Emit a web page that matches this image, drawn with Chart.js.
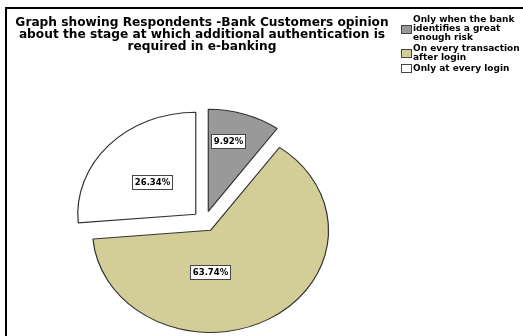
<!DOCTYPE html>
<html>
<head>
<meta charset="utf-8">
<script src="https://cdn.jsdelivr.net/npm/chart.js@4/dist/chart.umd.min.js"></script>
<style>
  html, body { margin: 0; padding: 0; background: #ffffff; }
  canvas { display: block; }
</style>
</head>
<body>
<canvas id="c" width="523" height="336"></canvas>
<script>
// Survey answers: stage at which extra authentication is wanted
const categories = [
  ['Only when the bank', 'identifies a great', 'enough risk'],
  ['On every transaction', 'after login'],
  ['Only at every login']
];
const percentages = [9.92, 63.74, 26.34];
const sliceColors = ['#999999', '#d3ce97', '#ffffff'];
const titleLines = [
  'Graph showing Respondents -Bank Customers opinion',
  'about the stage at which additional authentication is',
  'required in e-banking'
];

const FONT = '"DejaVu Sans", Verdana, sans-serif';
const SQUASH = 0.865;   // vertical flattening of the pie
const EXPLODE = 12;     // distance each slice is pulled out
// where each value box sits inside its slice (fraction along the sweep, fraction of radius)
const labelSpots = [
  { along: 0.38, radial: 0.705 },
  { along: 0.63, radial: 0.41 },
  { along: 0.48, radial: 0.49 }
];

function toScreen(cx, cy, x, y) {
  return { x: x, y: cy + (y - cy) * SQUASH };
}

const ovalPie = {
  id: 'ovalPie',
  beforeDraw(chart) {
    const ctx = chart.ctx;
    ctx.save();
    ctx.fillStyle = '#ffffff';
    ctx.fillRect(0, 0, chart.width, chart.height);
    // outer frame
    ctx.strokeStyle = '#000000';
    ctx.lineWidth = 2;
    ctx.strokeRect(6, 8, chart.width + 20, chart.height + 20);
    // title
    ctx.fillStyle = '#000000';
    ctx.font = 'bold 12.2px ' + FONT;
    ctx.textAlign = 'center';
    ctx.textBaseline = 'alphabetic';
    titleLines.forEach((t, i) => ctx.fillText(t, 202, 26 + i * 12));
    ctx.restore();
  },
  beforeDatasetDraw(chart, args) {
    const ctx = chart.ctx;
    const arcs = args.meta.data;
    if (!arcs.length) return false;
    const cx = arcs[0].x, cy = arcs[0].y;
    ctx.save();
    ctx.translate(cx, cy);
    ctx.scale(1, SQUASH);
    ctx.translate(-cx, -cy);
    arcs.forEach(arc => {
      const mid = (arc.startAngle + arc.endAngle) / 2;
      ctx.save();
      ctx.translate(Math.cos(mid) * EXPLODE, Math.sin(mid) * EXPLODE);
      arc.draw(ctx);
      ctx.restore();
    });
    ctx.restore();
    return false;
  },
  afterDraw(chart) {
    const ctx = chart.ctx;
    const arcs = chart.getDatasetMeta(0).data;
    const values = chart.data.datasets[0].data;
    ctx.save();
    // value boxes
    ctx.font = 'bold 8.5px ' + FONT;
    ctx.textAlign = 'center';
    ctx.textBaseline = 'middle';
    arcs.forEach((arc, i) => {
      const cx = arc.x, cy = arc.y;
      const mid = (arc.startAngle + arc.endAngle) / 2;
      const spot = labelSpots[i];
      const ang = arc.startAngle + spot.along * (arc.endAngle - arc.startAngle);
      const r = arc.outerRadius * spot.radial;
      const ux = cx + Math.cos(mid) * EXPLODE + Math.cos(ang) * r;
      const uy = cy + Math.sin(mid) * EXPLODE + Math.sin(ang) * r;
      const p = toScreen(cx, cy, ux, uy);
      const text = values[i].toFixed(2) + '%';
      const w = Math.round(ctx.measureText(text).width + 5);
      const h = 14;
      const bx = Math.round(p.x - w / 2) + 0.5, by = Math.round(p.y - h / 2) + 0.5;
      ctx.fillStyle = '#ffffff';
      ctx.fillRect(bx, by, w, h);
      ctx.strokeStyle = '#444444';
      ctx.lineWidth = 1;
      ctx.strokeRect(bx, by, w, h);
      ctx.fillStyle = '#000000';
      ctx.fillText(text, bx + w / 2, by + h / 2 + 0.5);
    });
    // legend
    const ds = chart.data.datasets[0];
    ctx.font = 'bold 9px ' + FONT;
    ctx.textAlign = 'left';
    ctx.textBaseline = 'middle';
    let y = 20;
    chart.data.labels.forEach((lines, i) => {
      const n = lines.length;
      const centre = y + (n - 1) * 9 / 2;
      ctx.fillStyle = ds.backgroundColor[i];
      ctx.fillRect(401.5, Math.round(centre - 4) + 0.5, 10, 8);
      ctx.strokeStyle = '#444444';
      ctx.lineWidth = 1;
      ctx.strokeRect(401.5, Math.round(centre - 4) + 0.5, 10, 8);
      ctx.fillStyle = '#000000';
      lines.forEach((t, k) => ctx.fillText(t, 413, y + k * 9));
      y += n * 9 + 1.6;
    });
    ctx.restore();
  }
};

new Chart(document.getElementById('c'), {
  type: 'pie',
  data: {
    labels: categories,
    datasets: [{
      data: percentages,
      backgroundColor: sliceColors,
      borderColor: '#333333',
      borderWidth: 1.2,
      radius: 118,
      clip: false
    }]
  },
  options: {
    responsive: false,
    animation: false,
    events: [],
    layout: { padding: { left: 0, right: 113.8, top: 106.6, bottom: 0 } },
    plugins: {
      legend: { display: false },
      title: { display: false },
      tooltip: { enabled: false }
    }
  },
  plugins: [ovalPie]
});
</script>
</body>
</html>
